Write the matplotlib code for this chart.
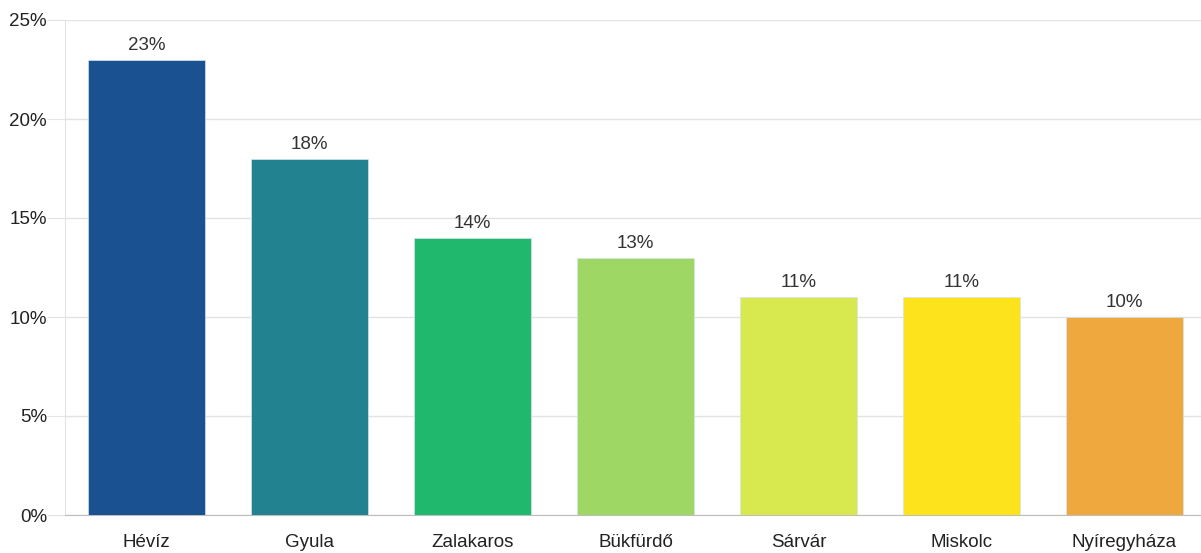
import matplotlib.pyplot as plt
from matplotlib.ticker import PercentFormatter

plt.rcParams["font.family"] = ["Liberation Sans", "DejaVu Sans"]

# Data
cities = ["Hévíz", "Gyula", "Zalakaros", "Bükfürdő", "Sárvár", "Miskolc", "Nyíregyháza"]
shares = [23, 18, 14, 13, 11, 11, 10]
colors = ["#1a5190", "#228290", "#1fb86c", "#9fd765", "#d8e84f", "#fde31c", "#efa83e"]

fig = plt.figure(figsize=(12.01, 5.53), dpi=100)
ax = fig.add_axes([65 / 1201, 38 / 553, 1136 / 1201, 495 / 553])

bars = ax.bar(range(len(cities)), shares, width=0.72, color=colors,
              edgecolor="#d5e3f0", linewidth=0.5, zorder=3)
for b, v in zip(bars, shares):
    ax.text(b.get_x() + b.get_width() / 2, v + 0.3, f"{v}%",
            ha="center", va="bottom", fontsize=13.5, color="#333333", zorder=4)

ax.set_xlim(-0.5, 6.47)
ax.set_ylim(0, 25)
ax.set_yticks([0, 5, 10, 15, 20, 25])
ax.yaxis.set_major_formatter(PercentFormatter(decimals=0))
ax.set_xticks(range(len(cities)))
ax.set_xticklabels(cities)

ax.grid(axis="y", color="#e3e3e3", linewidth=1, zorder=0)
for s in ["top", "right"]:
    ax.spines[s].set_visible(False)
ax.spines["left"].set_color("#e3e3e3")
ax.spines["bottom"].set_color("#bdbdbd")
ax.tick_params(axis="y", length=13, color="#e3e3e3", labelsize=13.5,
               labelcolor="#222222", pad=0)
ax.tick_params(axis="x", length=0, labelsize=13.5, labelcolor="#222222", pad=14)

fig.savefig("out.png", dpi=100)
